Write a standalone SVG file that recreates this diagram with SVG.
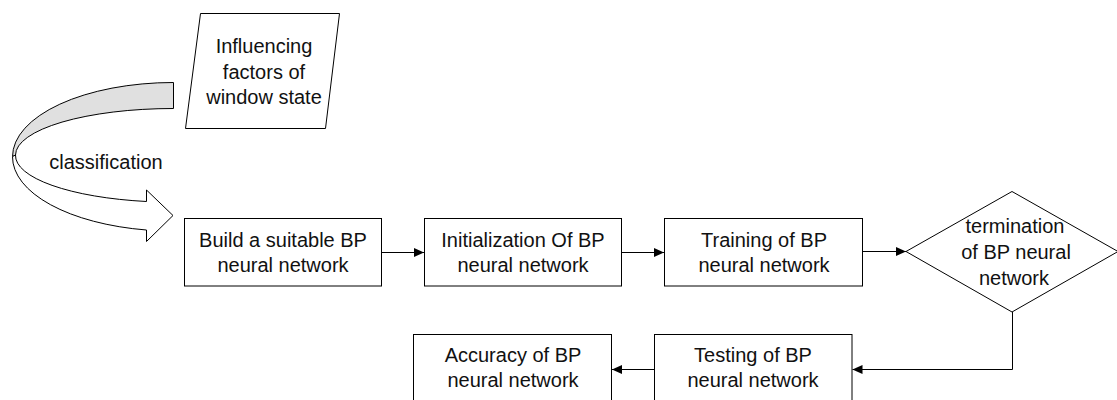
<svg xmlns="http://www.w3.org/2000/svg" width="1117" height="400" viewBox="0 0 1117 400">
  <defs>
    <marker id="arrow" viewBox="0 0 10 9" refX="10" refY="4.5" markerWidth="10" markerHeight="9" markerUnits="userSpaceOnUse" orient="auto">
      <path d="M0,0 L10,4.5 L0,9 Z" fill="#000"/>
    </marker>
    <style>
      .shape { fill: #fff; stroke: #000; stroke-width: 1; }
      .band-back { fill: #e0e0e0; stroke: #000; stroke-width: 1; }
      .label { font-family: "Liberation Sans", Arial, sans-serif; font-size: 20px; fill: #111; text-anchor: middle; }
      .conn { fill: none; stroke: #000; stroke-width: 1; }
    </style>
  </defs>

  <rect width="1117" height="400" fill="#fff"/>

  <!-- input data (parallelogram) -->
  <g id="node-factors">
    <polygon class="shape" points="200.5,13.5 339.5,13.5 325.5,128.5 185.5,128.5"/>
    <text class="label" x="264" y="53">Influencing</text>
    <text class="label" x="264" y="78.5">factors of</text>
    <text class="label" x="264" y="104">window state</text>
  </g>

  <!-- curved "classification" arrow -->
  <g id="node-classification">
    <!-- back face of the band -->
    <path class="band-back" d="M173.5,82.5 A161,74.3 0 0 0 12.5,156.6 L15.5,155 A158,46.7 0 0 1 173.5,108.5 Z"/>
    <!-- front face with arrowhead -->
    <path class="shape" d="M15.5,155 A158,46.7 0 0 0 146.5,201.5 L146.5,190 L173,215.5 L146.5,241.5 L146.5,230 A161,74.3 0 0 1 12.5,156.6 Z"/>
    <text class="label" x="106" y="169">classification</text>
  </g>

  <g id="node-build">
    <rect class="shape" x="184.5" y="218.5" width="197" height="67.5"/>
    <text class="label" x="283" y="246.5">Build a suitable BP</text>
    <text class="label" x="283" y="272">neural network</text>
  </g>

  <g id="node-init">
    <rect class="shape" x="424.5" y="218.5" width="197" height="67.5"/>
    <text class="label" x="523" y="246.5">Initialization Of BP</text>
    <text class="label" x="523" y="272">neural network</text>
  </g>

  <g id="node-training">
    <rect class="shape" x="664.5" y="218.5" width="198" height="67.5"/>
    <text class="label" x="764" y="246.5">Training of BP</text>
    <text class="label" x="764" y="272">neural network</text>
  </g>

  <g id="node-termination">
    <polygon class="shape" points="1012,191.5 1118,251.5 1012,312 906,251.5"/>
    <text class="label" x="1015" y="233">termination</text>
    <text class="label" x="1016" y="259">of BP neural</text>
    <text class="label" x="1014" y="285">network</text>
  </g>

  <g id="node-testing">
    <rect class="shape" x="654.5" y="334.5" width="197.5" height="69"/>
    <text class="label" x="753" y="362">Testing of BP</text>
    <text class="label" x="753" y="387">neural network</text>
  </g>

  <g id="node-accuracy">
    <rect class="shape" x="413.5" y="334.5" width="198" height="69"/>
    <text class="label" x="513" y="362">Accuracy of BP</text>
    <text class="label" x="513" y="387">neural network</text>
  </g>

  <g id="connectors">
    <line class="conn" x1="381.5" y1="252.5" x2="424" y2="252.5" marker-end="url(#arrow)"/>
    <line class="conn" x1="621.5" y1="252.5" x2="664" y2="252.5" marker-end="url(#arrow)"/>
    <line class="conn" x1="862.5" y1="251.5" x2="906" y2="251.5" marker-end="url(#arrow)"/>
    <polyline class="conn" points="1012.5,312 1012.5,369.5 852.5,369.5" marker-end="url(#arrow)"/>
    <line class="conn" x1="654.5" y1="369.5" x2="612" y2="369.5" marker-end="url(#arrow)"/>
  </g>
</svg>
